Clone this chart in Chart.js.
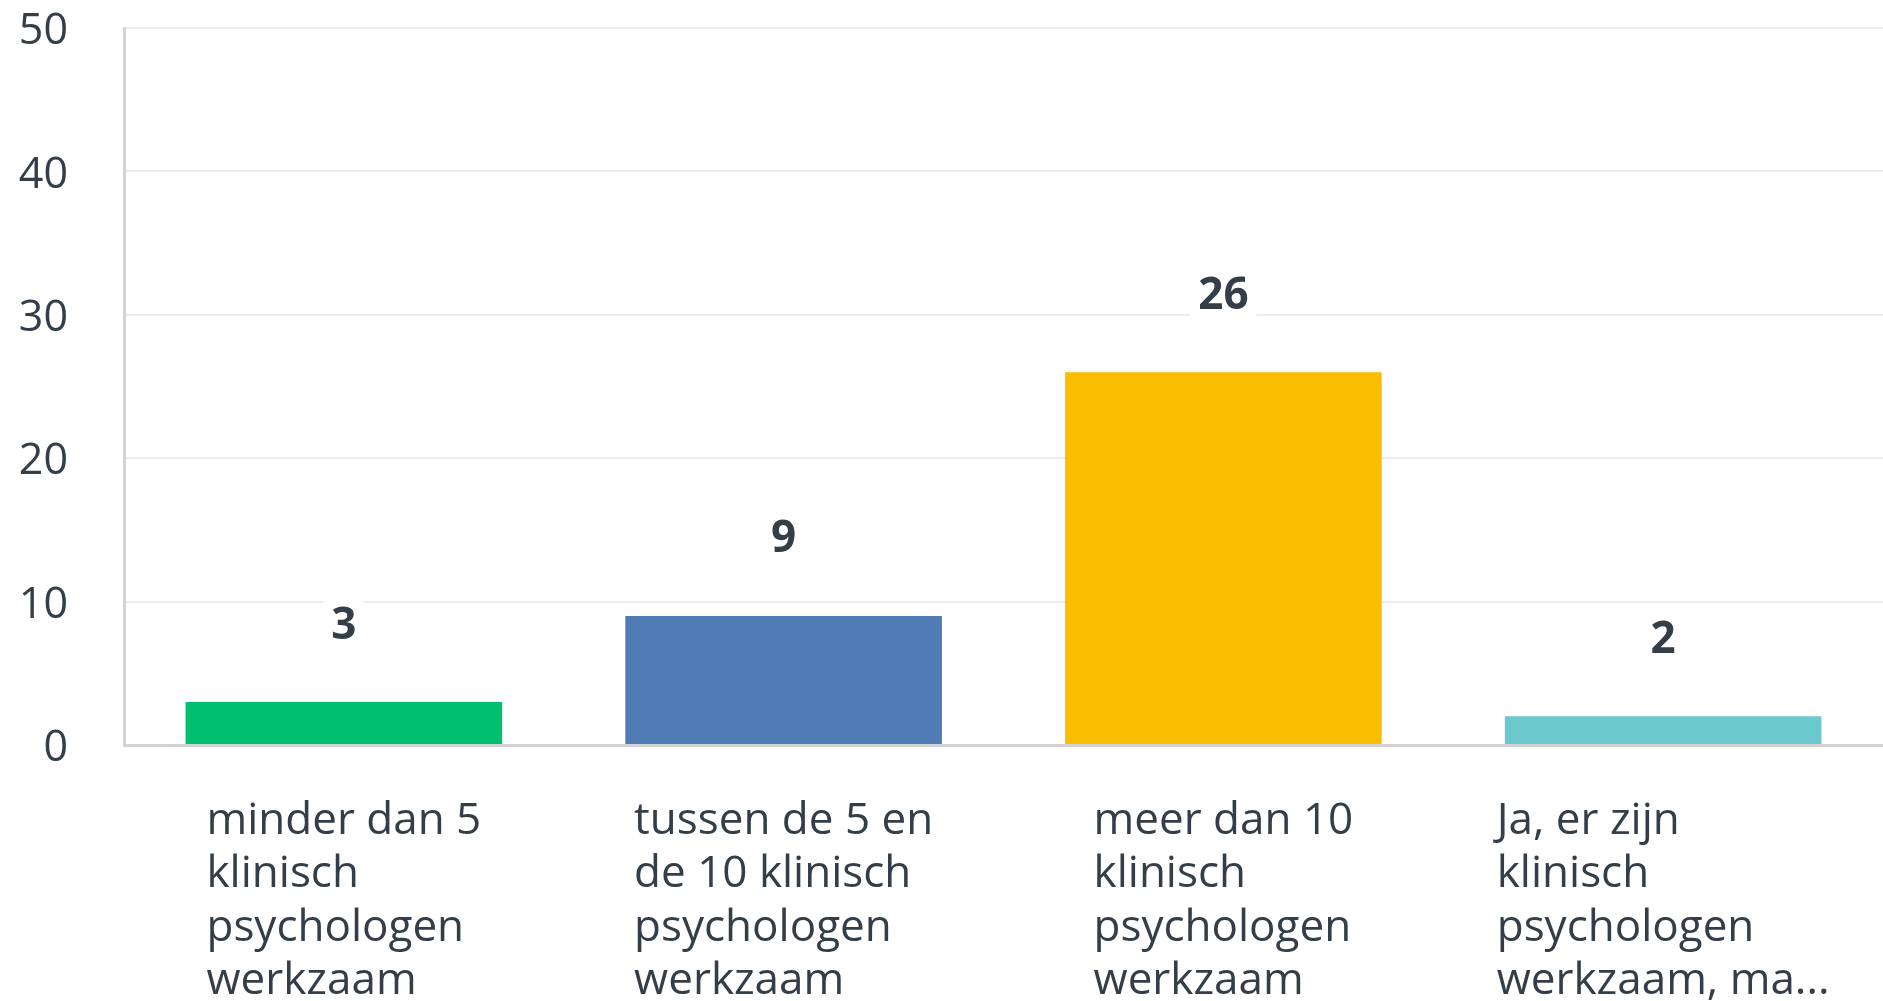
<!DOCTYPE html>
<html>
<head>
<meta charset="utf-8">
<script src="https://cdn.jsdelivr.net/npm/chart.js"></script>
<style>
  html, body { margin: 0; padding: 0; background: #fff; }
  #wrap { width: 1883px; height: 1001px; }
</style>
</head>
<body>
<div id="wrap"><canvas id="chart"></canvas></div>
<script>
// answer options (already wrapped into lines, last one truncated like the source)
const categories = [
    ['minder dan 5', 'klinisch', 'psychologen', 'werkzaam'],
    ['tussen de 5 en', 'de 10 klinisch', 'psychologen', 'werkzaam'],
    ['meer dan 10', 'klinisch', 'psychologen', 'werkzaam'],
    ['Ja, er zijn', 'klinisch', 'psychologen', 'werkzaam, ma...']
];
const counts = [3, 9, 26, 2];
const barColors = ['#00bf6f', '#507cb6', '#f9be00', '#6bc8cd'];
const yTicks = [0, 10, 20, 30, 40, 50];

const textColor = '#333e48';
const fontFamily = '"Open Sans", sans-serif';

// value labels above bars, with a white box that cuts the grid line
const valueLabels = {
    id: 'valueLabels',
    afterDatasetsDraw(chart) {
        const ctx = chart.ctx;
        const meta = chart.getDatasetMeta(0);
        ctx.save();
        ctx.font = 'bold 44px ' + fontFamily;
        ctx.textAlign = 'center';
        ctx.textBaseline = 'middle';
        meta.data.forEach((bar, i) => {
            const txt = String(counts[i]);
            const y = bar.y - 78;
            const w = ctx.measureText(txt).width + 16;
            ctx.fillStyle = '#fff';
            ctx.fillRect(bar.x - w / 2, y - 24, w, 48);
            ctx.fillStyle = textColor;
            ctx.fillText(txt, bar.x, y + 2);
        });
        ctx.restore();
    }
};

// x labels: each block left aligned, block centred on its category
const xLabels = {
    id: 'xLabels',
    afterDraw(chart) {
        const ctx = chart.ctx;
        const xs = chart.scales.x;
        ctx.save();
        ctx.font = '44px ' + fontFamily;
        ctx.fillStyle = textColor;
        ctx.textAlign = 'left';
        ctx.textBaseline = 'middle';
        categories.forEach((lines, i) => {
            const cx = xs.getPixelForTick(i);
            const maxW = Math.max(...lines.map(l => ctx.measureText(l).width));
            lines.forEach((line, j) => {
                ctx.fillText(line, cx - maxW / 2, xs.top + 76 + j * 53.5);
            });
        });
        ctx.restore();
    }
};

new Chart(document.getElementById('chart'), {
    type: 'bar',
    data: {
        labels: categories,
        datasets: [{
            data: counts,
            backgroundColor: barColors,
            categoryPercentage: 0.9,
            barPercentage: 0.8
        }]
    },
    options: {
        responsive: true,
        maintainAspectRatio: false,
        animation: false,
        layout: { padding: { top: 28, right: 0, left: 0, bottom: 0 } },
        plugins: {
            legend: { display: false },
            tooltip: { enabled: false }
        },
        scales: {
            x: {
                grid: { display: false },
                border: { color: '#d3d3d3', width: 3 },
                ticks: { display: false },
                afterFit(scale) { scale.height = 256; }
            },
            y: {
                min: 0,
                max: 50,
                afterBuildTicks(scale) { scale.ticks = yTicks.map(v => ({ value: v })); },
                grid: { color: '#ececec', lineWidth: 2, drawTicks: false },
                border: { color: '#d3d3d3', width: 3 },
                ticks: {
                    padding: 56,
                    labelOffset: 4,
                    color: textColor,
                    font: { family: fontFamily, size: 43, lineHeight: 1 }
                },
                afterFit(scale) {
                    scale.width = 124;
                    // tick padding is horizontal only here
                    scale.paddingTop = 20;
                    scale.paddingBottom = 20;
                }
            }
        }
    },
    plugins: [valueLabels, xLabels]
});
</script>
</body>
</html>
